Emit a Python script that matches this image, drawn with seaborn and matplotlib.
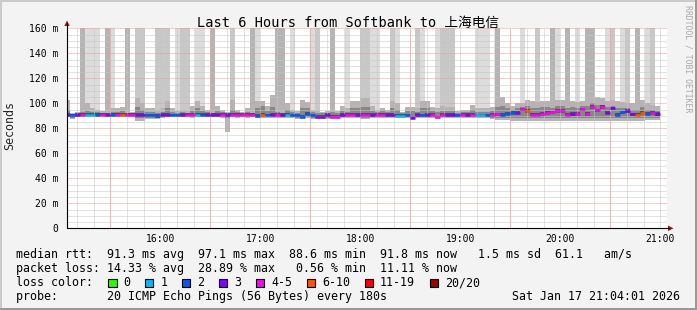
import numpy as np
import pandas as pd
import matplotlib
matplotlib.use("Agg")
import matplotlib.pyplot as plt
import matplotlib.dates as mdates
from matplotlib.patches import Rectangle, Polygon
from matplotlib.lines import Line2D
from matplotlib.ticker import MultipleLocator, FuncFormatter
import seaborn as sns

# ---------------- data (one value per 180 s step, starting 15:03) ----------------
step_start = "2026-01-17 15:03:00"
n_steps = 121
nan = np.nan

median_ms = [
    90.6, 90.6, 90.6, 90.8, 90.8, 90.8, 90.6, 90.8, 90.6, 90.6,
    90.8, 90.8, 90.8, 90.8, 90.6, 90.6, 90.4, 90.4, 89.9, 90.6,
    90.6, 90.4, 90.4, 90.6, 90.8, 90.8, 90.8, 90.6, 90.6, 90.6,
    90.6, 90.8, 90.6, 90.8, 90.8, 90.8, 90.8, 90.8, 89.9, 90.6,
    90.4, 90.6, 90.8, 90.6, 90.8, 90.4, 90.4, 89.2, 91.6, 90.4,
    89.0, 89.0, 90.6, 89.0, 89.0, 90.6, 90.8, 90.8, 90.6, 90.9,
    90.9, 90.6, 90.9, 90.9, 90.6, 90.6, 89.9, 90.2, 90.4, 88.6,
    90.6, 90.4, 90.6, 90.8, 88.8, 90.8, 90.6, 90.6, 90.4, 90.8,
    90.6, 90.8, 90.4, 90.4, 90.4, 90.8, 91.2, 91.0, 91.7, 92.5,
    92.5, 95.2, 93.9, 90.9, 90.9, 91.5, 92.3, 92.8, 93.9, 93.9,
    90.9, 91.5, 91.5, 95.2, 91.5, 97.1, 94.4, 97.1, 92.5, 96.0,
    90.6, 92.8, 93.9, 91.2, 90.9, 92.3, 91.7, 92.3, 91.5, nan, nan,
]

lost_pings = [
    3, 2, 3, 4, 1, 1, 2, 4, 3, 2,
    5, 7, 4, 5, 3, 3, 2, 2, 2, 3,
    3, 2, 2, 3, 4, 5, 1, 2, 3, 3,
    3, 4, 3, 4, 5, 4, 4, 5, 2, 7,
    2, 3, 5, 3, 1, 2, 2, 2, 2, 2,
    3, 3, 3, 5, 4, 3, 4, 4, 3, 4,
    5, 3, 4, 4, 3, 3, 1, 1, 2, 3,
    3, 2, 3, 4, 5, 4, 3, 3, 2, 4,
    3, 4, 1, 1, 2, 4, 5, 2, 2, 2,
    3, 5, 7, 4, 5, 4, 4, 5, 4, 4,
    5, 3, 4, 4, 5, 5, 4, 5, 3, 3,
    2, 2, 3, 3, 7, 6, 2, 4, 3, nan, nan,
]

# density level of the smoke that reaches the top of the graph (0 = none)
upper_smoke = [
    0, 0, 0, 3, 1, 1, 1, 0, 3, 1,
    0, 0, 3, 0, 2, 2, 0, 0, 2, 2,
    2, 0, 1, 2, 2, 0, 1, 1, 0, 3,
    0, 0, 0, 2, 0, 0, 0, 3, 1, 0,
    0, 0, 3, 3, 0, 1, 0, 0, 0, 1,
    2, 0, 0, 3, 0, 0, 1, 0, 0, 2,
    2, 1, 1, 0, 0, 2, 1, 0, 0, 0,
    2, 1, 0, 0, 1, 2, 2, 2, 0, 0,
    0, 0, 1, 1, 1, 0, 3, 0, 0, 0,
    0, 1, 0, 0, 2, 0, 0, 3, 1, 0,
    3, 0, 1, 0, 3, 3, 0, 0, 1, 2,
    0, 1, 2, 0, 3, 0, 1, 2, 0, 0, 0,
]

smoke_hi = [
    103, 92, 93, 95, 100, 96, 95, 94, 93, 96,
    96, 97, 94, 93, 104, 100, 96, 96, 95, 96,
    102, 96.5, 94, 95, 94, 97.6, 102, 98, 95, 94,
    97.6, 95, 93, 103, 95, 93, 96, 94, 102, 102,
    98, 106.5, 95, 94, 100, 95, 94, 103, 101, 95,
    94, 93, 94, 95, 94, 97.6, 96, 102, 102, 104.5,
    104, 98, 95, 96, 95, 102, 100, 93, 97, 97,
    96, 102, 102, 97, 96, 98, 97, 97, 94, 95,
    95, 98.4, 96, 96, 96, 97, 102.4, 105, 100, 98,
    100, 100, 103, 102, 101, 102, 102, 101, 103, 103,
    101, 102, 101, 102, 104, 106, 105, 104, 102, 103,
    102, 101, 100, 100, 100, 103, 100, 99, 98, nan, nan,
]

smoke_lo = [
    89.5, 87.7, 89, 89, 89, 89, 89, 89.5, 89, 89,
    89, 89, 89, 89, 86, 86, 87.5, 87.5, 87.7, 88.5,
    89, 89, 89, 89, 89, 88.5, 89, 89, 89, 89,
    89, 88.5, 77, 89, 88, 89, 88.5, 89, 88, 88,
    88.5, 88.5, 88, 88, 88, 88, 87.7, 87.5, 88, 87.5,
    87.5, 87.5, 87.7, 87.5, 87.5, 88, 88, 88, 88, 87.5,
    87.5, 88, 88, 88, 88, 88, 88, 88.5, 88, 87.5,
    88, 88, 88, 88, 87.5, 88, 88, 88, 88, 88,
    88, 88, 88, 88, 88, 87.5, 87, 86.5, 86.5, 86,
    86, 86, 86, 86, 86, 86, 86, 86, 86, 86,
    86, 86, 86, 86, 86, 86, 86, 86, 86, 86,
    86, 86, 86, 86, 86, 86, 86.5, 86.5, 87, nan, nan,
]

core_hi = [
    95, 91.5, 92, 93, 94, 93, 93, 92.5, 92, 93,
    93, 94, 92.5, 92, 97, 95, 93, 93, 92, 93,
    96, 93, 92.5, 93, 92.5, 94, 96, 94, 93, 92.5,
    94, 93, 92, 95, 93, 92, 93, 92.5, 96, 98,
    94, 97, 93, 92.5, 95, 93, 92.5, 96, 96, 93,
    92.5, 92, 92.5, 93, 92.5, 94, 93, 96, 96, 97,
    97, 94, 93, 93.5, 93, 96, 95, 92, 94, 94,
    93, 96, 96, 94, 93, 94, 94, 94, 92.5, 93,
    93, 95, 93, 93, 93, 94, 97, 98, 96, 95,
    96, 97, 98, 96, 96, 97, 97, 96, 98, 98,
    96, 97, 96, 98, 98, 100, 99, 99, 97, 98,
    96, 96, 96, 95, 95, 97, 95, 95, 94, nan, nan,
]

core_lo = [
    89.5, 88.5, 89.5, 89.5, 89.5, 89.5, 89.5, 89.5, 89.5, 89.5,
    89.5, 89.5, 89.5, 89.5, 88, 88, 88.5, 88.5, 88.5, 89.5,
    89.5, 89.5, 89.5, 89.5, 89.5, 89.5, 89.5, 89.5, 89.5, 89.5,
    89.5, 89.5, 88.5, 89.5, 89, 89.5, 89.5, 89.5, 89, 89,
    89.5, 89.5, 89, 89, 89, 89, 88.5, 88.5, 89, 88.5,
    88.5, 88.5, 88.5, 88.5, 88.5, 89, 89, 89, 89, 88.5,
    88.5, 89, 89, 89, 89, 89, 89, 89, 89, 88.5,
    89, 89, 89, 89, 88.5, 89, 89, 89, 89, 89,
    89, 89, 89, 89, 89, 88.5, 88, 88, 88, 88,
    88, 88, 88, 88, 88, 88, 88, 88, 88, 88,
    88, 88, 88, 88, 88, 88, 88, 88, 88, 88,
    88, 88, 88, 88, 88, 88, 88, 88, 88, nan, nan,
]

loss_labels = ["0", "1", "2", "3", "4-5", "6-10", "11-19", "20/20"]
loss_upper = [0, 1, 2, 3, 5, 10, 19, 20]
loss_colors = ["#26ff00", "#00b8ff", "#0059ff", "#7e00ff", "#ff00ff", "#ff5500", "#ff0000", "#a00000"]

y_ticks = [0, 20, 40, 60, 80, 100, 120, 140, 160]

title = "Last 6 Hours from Softbank to 上海电信"
stat_lines = [
    "median rtt:  91.3 ms avg  97.1 ms max  88.6 ms min  91.8 ms now   1.5 ms sd  61.1   am/s",
    "packet loss: 14.33 % avg  28.89 % max   0.56 % min  11.11 % now",
    "loss color:",
    "probe:       20 ICMP Echo Pings (56 Bytes) every 180s",
]
stamp = "Sat Jan 17 21:04:01 2026"

# ---------------- drawing ----------------
sns.set_style("white")
plt.rcParams["font.family"] = ["DejaVu Sans Mono", "Noto Sans CJK SC"]

W, H = 697, 310
fig = plt.figure(figsize=(W / 100, H / 100), dpi=100)
fig.patch.set_facecolor("#f3f3f3")


def fx(px):
    return px / W


def fy(py):
    return 1 - py / H


ax = fig.add_axes([fx(67), fy(228.3), 600 / W, 200 / H])
ax.set_facecolor("white")

times = pd.date_range(step_start, periods=n_steps, freq="3min")
x = mdates.date2num(times.to_pydatetime())
w = 3 / 1440.0

med = np.array(median_ms, dtype=float)
lost = np.array(lost_pings, dtype=float)
up = np.array(upper_smoke)
hi = np.array(smoke_hi, dtype=float)
lo = np.array(smoke_lo, dtype=float)
chi = np.array(core_hi, dtype=float)
clo = np.array(core_lo, dtype=float)

shade = {1: "#dcdcdc", 2: "#c8c8c8", 3: "#b4b4b4"}
for lvl, col in shade.items():
    s = up == lvl
    ax.bar(x[s], 160 - hi[s], bottom=hi[s], width=w, align="edge", color=col, lw=0, zorder=1)

ok = ~np.isnan(med)
ax.bar(x[ok], hi[ok] - lo[ok], bottom=lo[ok], width=w, align="edge", color="#b4b4b4", lw=0, zorder=1.1)
ax.bar(x[ok], chi[ok] - clo[ok], bottom=clo[ok], width=w, align="edge", color="#878787", lw=0, zorder=1.2)
in_lo = np.maximum(clo[ok], med[ok] - 1.3)
in_hi = np.minimum(chi[ok], med[ok] + 1.3)
ax.bar(x[ok], in_hi - in_lo, bottom=in_lo, width=w, align="edge", color="#4e4e4e", lw=0, zorder=1.3)


def loss_color(n):
    for up_, c in zip(loss_upper, loss_colors):
        if n <= up_:
            return c
    return loss_colors[-1]


cols = [loss_color(n) for n in lost[ok]]
ax.hlines(med[ok], x[ok], x[ok] + w, colors=cols, lw=1.8, zorder=3)

t0 = pd.Timestamp("2026-01-17 15:04:01")
t1 = pd.Timestamp("2026-01-17 21:04:01")
ax.set_xlim(mdates.date2num(t0), mdates.date2num(t1))
ax.set_ylim(0, 160)

ax.yaxis.set_major_locator(plt.FixedLocator(y_ticks))
ax.yaxis.set_minor_locator(MultipleLocator(5))
ax.yaxis.set_major_formatter(FuncFormatter(lambda v, p: "0" if v == 0 else f"{int(v)} m"))
ax.xaxis.set_major_locator(mdates.HourLocator())
ax.xaxis.set_minor_locator(mdates.MinuteLocator(byminute=range(0, 60, 10)))
ax.xaxis.set_major_formatter(mdates.DateFormatter("%H:%M"))

ax.set_axisbelow(False)
dot = (0, (1, 1))
ax.grid(which="minor", color="#c6c6c6", linestyle=dot, lw=0.72)
ax.grid(which="major", axis="x", color="#c6c6c6", linestyle=dot, lw=0.72)
ax.grid(which="major", axis="y", color="#eb9c9c", linestyle=dot, lw=0.72)
# half-hour major grid lines (rrdtool style)
half_hours = pd.date_range("2026-01-17 15:30", "2026-01-17 20:30", freq="60min")
for t in half_hours:
    ax.axvline(mdates.date2num(t), color="#eb9c9c", linestyle=dot, lw=0.72, zorder=2.6)

for sp in ax.spines.values():
    sp.set_visible(False)

ax.tick_params(axis="y", which="major", length=3, width=0.72, color="#000000", pad=3,
               labelsize=7, labelcolor="#000000", direction="out")
ax.tick_params(axis="y", which="minor", length=1.5, width=0.72, color="#000000", direction="out")
ax.tick_params(axis="x", which="major", length=2, width=0.72, color="#888888", pad=2,
               labelsize=7, labelcolor="#000000", direction="out")
ax.tick_params(axis="x", which="minor", length=1.5, width=0.72, color="#888888", direction="out")

# axis lines with arrows
fig.add_artist(Line2D([fx(67), fx(67)], [fy(228.3), fy(23)], color="black", lw=0.8))
fig.add_artist(Line2D([fx(67), fx(669)], [fy(228.3), fy(228.3)], color="black", lw=0.8))
fig.add_artist(Polygon([[fx(64.3), fy(26)], [fx(69.7), fy(26)], [fx(67), fy(20.5)]],
                       closed=True, color="#8b1c1c", lw=0))
fig.add_artist(Polygon([[fx(668), fy(225.5)], [fx(668), fy(231.1)], [fx(673.5), fy(228.3)]],
                       closed=True, color="#8b1c1c", lw=0))

# frame shading
fig.add_artist(Rectangle((0, fy(2)), 1, 2 / H, color="#cbcbcb", lw=0))
fig.add_artist(Rectangle((0, 0), 2 / W, 1, color="#cbcbcb", lw=0))
fig.add_artist(Rectangle((0, 0), 1, 2 / H, color="#999999", lw=0))
fig.add_artist(Rectangle((fx(695), 0), 2 / W, 1, color="#999999", lw=0))

# texts
fig.text(fx(347.7), fy(27), title, ha="center", va="baseline", fontsize=9.8, color="black")
fig.text(fx(10), fy(126), "Seconds", rotation=90, ha="center", va="center", fontsize=8.4)
fig.text(fx(688), fy(5), "RRDTOOL / TOBI OETIKER", rotation=270, ha="center", va="top",
         fontsize=5.9, color="#a8a8a8")

baselines = [258, 272, 286, 300]
for s, b in zip(stat_lines, baselines):
    fig.text(fx(16), fy(b), s, ha="left", va="baseline", fontsize=8.4, color="black")
fig.text(fx(680), fy(300), stamp, ha="right", va="baseline", fontsize=8.4, color="black")

cw = 7.03
sx = 108.0
for lab, col in zip(loss_labels, loss_colors):
    fig.add_artist(Rectangle((fx(sx), fy(287)), 8.5 / W, 8.5 / H, facecolor=col,
                             edgecolor="black", lw=0.8))
    fig.text(fx(sx + 15.3), fy(286), lab, ha="left", va="baseline", fontsize=8.4, color="black")
    sx = sx + 15.3 + len(lab) * cw + 14.6

fig.savefig("out.png", dpi=100, facecolor=fig.get_facecolor())
